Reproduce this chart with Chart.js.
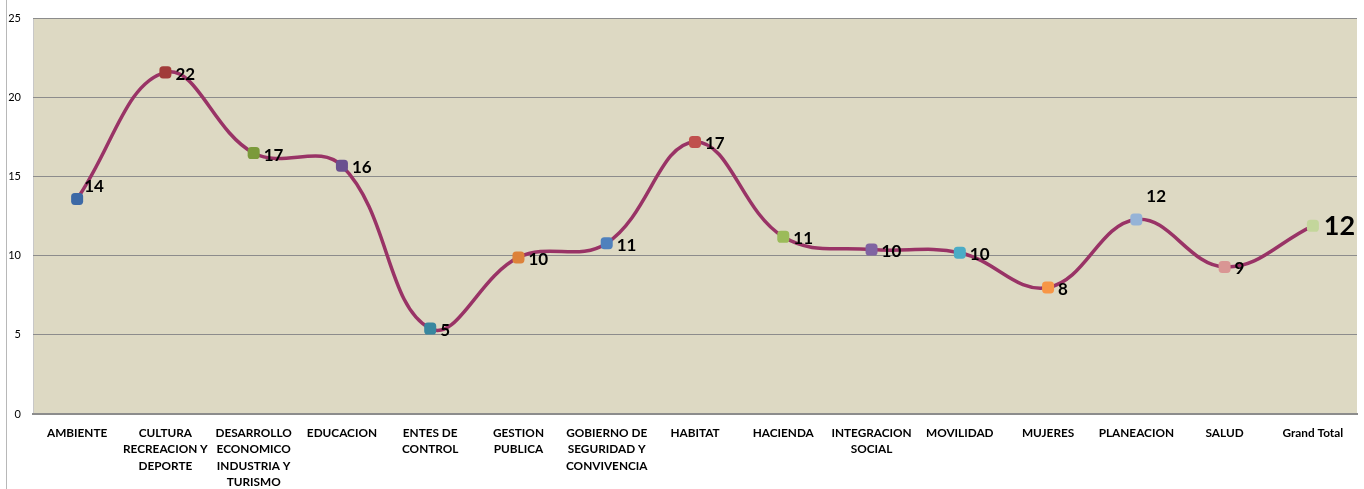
<!DOCTYPE html>
<html>
<head>
<meta charset="utf-8">
<script src="https://cdn.jsdelivr.net/npm/chart.js@4/dist/chart.umd.min.js"></script>
<style>
  body { margin: 0; background: #fff; }
  #wrap { position: relative; width: 1364px; height: 489px; }
  #edge { position: absolute; left: 6px; top: 0; width: 1px; height: 489px; background: #b8b8b8; }
</style>
</head>
<body>
<div id="wrap">
  <div id="edge"></div>
  <canvas id="myChart"></canvas>
</div>
<script>
// categorias
var categorias = [
    'AMBIENTE',
    ['CULTURA', 'RECREACION Y', 'DEPORTE'],
    ['DESARROLLO', 'ECONOMICO', 'INDUSTRIA Y', 'TURISMO'],
    'EDUCACION',
    ['ENTES DE', 'CONTROL'],
    ['GESTION', 'PUBLICA'],
    ['GOBIERNO DE', 'SEGURIDAD Y', 'CONVIVENCIA'],
    'HABITAT',
    'HACIENDA',
    ['INTEGRACION', 'SOCIAL'],
    'MOVILIDAD',
    'MUJERES',
    'PLANEACION',
    'SALUD',
    'Grand Total'
];

// valores
var valores = [13.6, 21.6, 16.5, 15.7, 5.4, 9.9, 10.8, 17.2, 11.2, 10.4, 10.2, 8.0, 12.3, 9.3, 11.9];

// etiquetas de dados
var etiquetas = ['14', '22', '17', '16', '5', '10', '11', '17', '11', '10', '10', '8', '12', '9', '12'];

// ticks do eixo y
var ticksY = [0, 5, 10, 15, 20, 25];

// cores dos marcadores
var coresPontos = [
    '#3c69a6', '#a13c3a', '#7b9a3b', '#6a5190', '#38879f',
    '#dd823a', '#4f81bd', '#c0504d', '#9bbb59', '#8064a2',
    '#4bacc6', '#f79646', '#95b3d7', '#d99694', '#c3d69b'
];

// posicao das etiquetas
var posEtiquetas = ['acima-dir', 'dir', 'dir', 'dir', 'dir', 'dir', 'dir', 'dir', 'dir', 'dir', 'dir', 'dir', 'acima', 'dir', 'grande'];

var fonte = 'Lato, "Open Sans", sans-serif';

// fundo da area do grafico
const fundoPlugin = {
    id: 'fundo',
    beforeDraw(chart) {
        const { ctx, chartArea: a } = chart;
        ctx.save();
        ctx.fillStyle = '#ddd9c3';
        ctx.fillRect(a.left, a.top, a.right - a.left, a.bottom - a.top);
        ctx.strokeStyle = '#c8c8c8';
        ctx.lineWidth = 1;
        ctx.beginPath();
        ctx.moveTo(a.left + 0.5, a.top);
        ctx.lineTo(a.left + 0.5, a.bottom);
        ctx.stroke();
        ctx.restore();
    }
};

// etiquetas dos pontos
const etiquetaPlugin = {
    id: 'etiquetas',
    afterDatasetsDraw(chart) {
        const ctx = chart.ctx;
        const pts = chart.getDatasetMeta(0).data;
        ctx.save();
        ctx.fillStyle = '#000';
        ctx.textBaseline = 'middle';
        pts.forEach(function (p, i) {
            var pos = posEtiquetas[i];
            var x = p.x + 10, y = p.y + 2;
            ctx.font = 'bold 17px ' + fonte;
            ctx.textAlign = 'left';
            if (pos === 'acima-dir') { x = p.x + 7; y = p.y - 12; }
            if (pos === 'acima') { x = p.x + 10; y = p.y - 23; }
            if (pos === 'grande') { x = p.x + 11; y = p.y + 1; ctx.font = 'bold 27px ' + fonte; }
            ctx.fillText(etiquetas[i], x, y);
        });
        ctx.restore();
    }
};

const data = {
    labels: categorias,
    datasets: [{
        data: valores,
        borderColor: '#993366',
        borderWidth: 3.5,
        tension: 0.4,
        pointStyle: 'rectRounded',
        pointRadius: 7,
        pointBackgroundColor: coresPontos,
        pointBorderColor: coresPontos,
        pointBorderWidth: 0
    }]
};

const config = {
    type: 'line',
    data,
    options: {
        responsive: true,
        maintainAspectRatio: false,
        animation: false,
        layout: { padding: { top: 16, right: 4, left: 0, bottom: 0 } },
        plugins: {
            legend: { display: false },
            tooltip: { enabled: false }
        },
        scales: {
            x: {
                offset: true,
                grid: { display: false, drawTicks: false },
                border: { color: '#8c8c8c', width: 2 },
                ticks: {
                    color: '#000',
                    autoSkip: false,
                    maxRotation: 0,
                    padding: 11,
                    font: { family: fonte, size: 11.8, weight: 'bold', lineHeight: 1.38 }
                },
                afterFit(scale) { scale.height = 75; }
            },
            y: {
                min: 0,
                max: 25,
                afterBuildTicks(scale) { scale.ticks = ticksY.map(v => ({ value: v })); },
                grid: { color: '#8c8c8c', drawTicks: false },
                border: { display: false },
                ticks: {
                    color: '#000',
                    padding: 12,
                    font: { family: fonte, size: 11 }
                },
                afterFit(scale) { scale.width = 33; }
            }
        }
    },
    plugins: [fundoPlugin, etiquetaPlugin]
};

var myChart = new Chart(document.getElementById('myChart'), config);
</script>
</body>
</html>
